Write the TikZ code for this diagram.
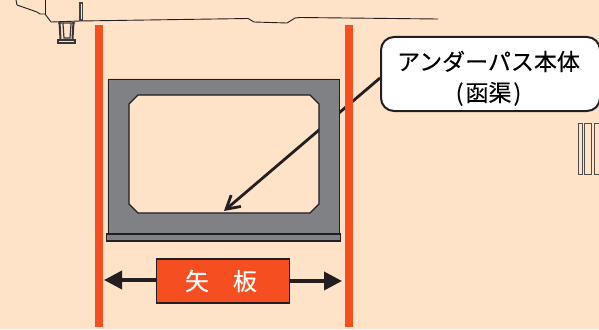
\documentclass[tikz,border=0pt]{standalone}
\usepackage{fontspec}
\newfontfamily\jpfont[FakeBold=0.25]{Noto Sans CJK JP}
\usepackage{xcolor}
\usetikzlibrary{arrows.meta, calc}
\definecolor{bgcream}{HTML}{FEE3C9}
\definecolor{boardred}{HTML}{F54E21}
\definecolor{bodygray}{HTML}{7F8184}
\definecolor{inkdark}{HTML}{231F20}
\tikzset{
    ground/.style={draw=inkdark, line width=0.9pt},
    boardbar/.style={fill=boardred, draw=none},
    pushline/.style={draw=inkdark, line width=3.6pt, -{Triangle[length=18pt,width=18pt]}}
}

\begin{document}
\begin{tikzpicture}[x=1pt, y=-1pt]
        \fill[bgcream] (0,0) rectangle (599,329);
        \clip (0,0) rectangle (599,329);
        \useasboundingbox (0,0) rectangle (599,329);

        \draw[ground] (16,0) -- (17,5) -- (37,12) -- (40,14) -- (45,14) -- (51,22) -- (80,21) -- (248,18.5) -- (254,22) -- (287,23) -- (295,18) -- (300,17.5) -- (438,19);
        \draw[ground] (45,0) -- (45,14);
        \draw[inkdark!85, fill=bgcream, line width=1.1pt] (80,3) rectangle (82.5,20);
        \draw[inkdark!90, line width=2pt] (59.5,22) -- (60.5,39) (73.5,22) -- (72.5,39);
        \draw[inkdark!90, line width=1.2pt] (58,23) -- (75,23) (63,24) -- (64,38) -- (70,38) -- (71,24);
        \draw[inkdark!90, line width=1.4pt] (58,40) rectangle (75,43);
        \draw[inkdark!80, fill=bgcream, line width=1pt] (578,123) rectangle (582,174);
        \draw[inkdark!80, fill=bgcream, line width=1pt] (584,123) rectangle (591.5,174);
        \draw[inkdark!80, fill=bgcream, line width=1pt] (594,123) rectangle (604,174);

        \node[draw=inkdark, fill=white, line width=2pt, rounded corners=13pt, minimum width=219pt, minimum height=74pt, inner sep=0pt, align=center, font=\jpfont\fontsize{23}{31}\selectfont] (callout) at (490.5,74) {\hspace*{-4pt}\rule{0pt}{28pt}アンダーパス本体\\\hspace*{-4pt}(\hspace{2pt}函渠\hspace{2pt})};
        \coordinate (target) at (224,211);
        \draw[inkdark, line width=2.8pt, -{Straight Barb[length=13pt,width=15pt]}] ($(callout.west)+(0,4)$) -- (target);

        \draw[bodygray, fill=bodygray, even odd rule] (108,79) rectangle (339,235)
            (138,95) -- (310,95) -- (319,104) -- (319,204) -- (310,213) -- (138,213) -- (129,204) -- (129,104) -- cycle;
        \draw[inkdark, line width=0.9pt] (129,235) -- (108,235) -- (108,79) -- (339,79) -- (339,235);
        \draw[inkdark, line width=1.1pt] (138,95) -- (310,95) -- (319,104) -- (319,204) -- (310,213) -- (138,213) -- (129,204) -- (129,104) -- cycle;
        \draw[inkdark, fill=bodygray, line width=1.1pt] (106.5,234) rectangle (340.5,241);

        \fill[boardbar] (95,25) rectangle (103,327);
        \fill[boardbar] (345,25) rectangle (353,327);

        \node[draw=inkdark, fill=boardred, line width=1.1pt, minimum width=133pt, minimum height=44pt, inner sep=0pt, text=white, font=\jpfont\fontsize{24}{24}\selectfont] (yaita) at (223,281) {\hspace*{-4pt}矢　板};
        \coordinate (leftstop) at (104,280);
        \coordinate (rightstop) at (342,281);
        \draw[pushline] (yaita.west |- leftstop) -- (leftstop);
        \draw[pushline] (yaita.east |- rightstop) -- (rightstop);
    \end{tikzpicture}
\end{document}
